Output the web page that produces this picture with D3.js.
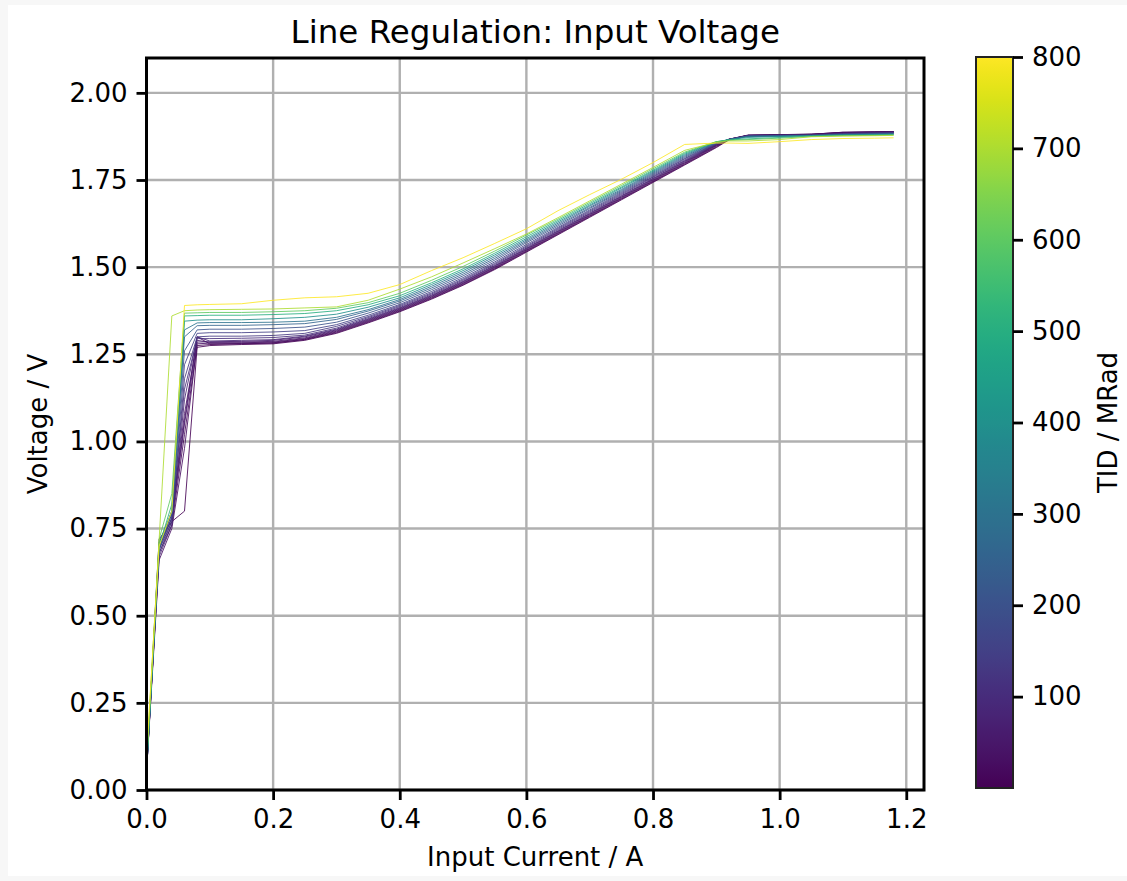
<!DOCTYPE html>
<html><head><meta charset="utf-8">
<script src="https://cdn.jsdelivr.net/npm/d3@7"></script>
<style>
body{margin:0;background:#fff;}
text{font-family:"DejaVu Sans",sans-serif;fill:#000;}
</style>
</head><body>
<svg id="c" width="1127" height="881"></svg>
<script>
// ---------- data ----------
const tid = [0, 10, 20, 30, 45, 60, 80, 100, 125, 150, 200, 250, 300, 400, 500, 600, 700, 800];
const current = [0, 0.02, 0.04, 0.06, 0.08, 0.10, 0.15, 0.20, 0.25, 0.30, 0.35, 0.40, 0.45, 0.50, 0.55, 0.60, 0.65, 0.70, 0.75, 0.80, 0.85, 0.90, 0.92, 0.95, 1.00, 1.05, 1.10, 1.15, 1.18];

const v000 = [0.05, 0.72, 0.77, 0.80, 1.27, 1.275, 1.278, 1.28, 1.29, 1.31, 1.34, 1.372, 1.408, 1.448, 1.493, 1.543, 1.593, 1.643, 1.693, 1.743, 1.793, 1.843, 1.865, 1.878, 1.879, 1.880, 1.886, 1.887, 1.888];
const v010 = [0.05, 0.68, 0.76, 1.02, 1.275, 1.278, 1.28, 1.282, 1.292, 1.312, 1.342, 1.374, 1.41, 1.45, 1.495, 1.545, 1.595, 1.645, 1.695, 1.745, 1.795, 1.845, 1.866, 1.878, 1.879, 1.881, 1.887, 1.888, 1.889];
const v020 = [0.06, 0.70, 0.78, 1.06, 1.30, 1.28, 1.281, 1.283, 1.293, 1.314, 1.344, 1.376, 1.412, 1.452, 1.497, 1.547, 1.597, 1.647, 1.697, 1.747, 1.797, 1.847, 1.866, 1.878, 1.88, 1.882, 1.886, 1.888, 1.889];
const v030 = [0.05, 0.66, 0.75, 0.98, 1.28, 1.282, 1.283, 1.285, 1.295, 1.316, 1.346, 1.378, 1.414, 1.454, 1.499, 1.549, 1.599, 1.649, 1.699, 1.749, 1.799, 1.849, 1.867, 1.879, 1.88, 1.881, 1.887, 1.888, 1.888];
const v045 = [0.06, 0.71, 0.79, 1.08, 1.29, 1.284, 1.285, 1.287, 1.297, 1.318, 1.348, 1.38, 1.416, 1.456, 1.501, 1.551, 1.601, 1.651, 1.701, 1.751, 1.801, 1.85, 1.867, 1.878, 1.879, 1.88, 1.885, 1.887, 1.888];
const v060 = [0.05, 0.69, 0.77, 1.05, 1.285, 1.286, 1.287, 1.29, 1.30, 1.32, 1.35, 1.382, 1.418, 1.458, 1.503, 1.553, 1.603, 1.653, 1.703, 1.753, 1.803, 1.851, 1.867, 1.878, 1.879, 1.88, 1.884, 1.886, 1.887];
const v080 = [0.06, 0.67, 0.76, 1.12, 1.30, 1.288, 1.29, 1.292, 1.302, 1.322, 1.352, 1.384, 1.42, 1.46, 1.505, 1.555, 1.605, 1.655, 1.705, 1.755, 1.805, 1.852, 1.867, 1.877, 1.878, 1.879, 1.884, 1.886, 1.887];
const v100 = [0.05, 0.70, 0.78, 1.15, 1.295, 1.295, 1.296, 1.298, 1.305, 1.325, 1.355, 1.387, 1.423, 1.463, 1.508, 1.558, 1.608, 1.658, 1.708, 1.758, 1.807, 1.853, 1.866, 1.877, 1.878, 1.879, 1.883, 1.885, 1.886];
const v125 = [0.06, 0.68, 0.77, 1.18, 1.30, 1.302, 1.302, 1.304, 1.31, 1.33, 1.358, 1.39, 1.426, 1.466, 1.511, 1.561, 1.611, 1.661, 1.711, 1.76, 1.81, 1.854, 1.866, 1.877, 1.878, 1.879, 1.882, 1.884, 1.885];
const v150 = [0.05, 0.69, 0.78, 1.22, 1.31, 1.312, 1.312, 1.314, 1.318, 1.335, 1.362, 1.393, 1.43, 1.47, 1.515, 1.565, 1.614, 1.664, 1.714, 1.763, 1.812, 1.855, 1.866, 1.876, 1.877, 1.878, 1.882, 1.884, 1.885];
const v200 = [0.06, 0.70, 0.79, 1.26, 1.32, 1.322, 1.322, 1.324, 1.328, 1.342, 1.368, 1.398, 1.435, 1.475, 1.52, 1.57, 1.618, 1.668, 1.717, 1.766, 1.815, 1.856, 1.866, 1.876, 1.877, 1.878, 1.881, 1.883, 1.884];
const v250 = [0.05, 0.69, 0.80, 1.30, 1.332, 1.333, 1.333, 1.335, 1.338, 1.35, 1.374, 1.403, 1.44, 1.48, 1.525, 1.574, 1.622, 1.671, 1.72, 1.769, 1.818, 1.857, 1.866, 1.875, 1.876, 1.877, 1.88, 1.882, 1.883];
const v300 = [0.06, 0.70, 0.80, 1.32, 1.34, 1.341, 1.341, 1.342, 1.345, 1.356, 1.378, 1.407, 1.445, 1.485, 1.53, 1.578, 1.626, 1.675, 1.723, 1.772, 1.821, 1.858, 1.866, 1.875, 1.876, 1.877, 1.88, 1.881, 1.882];
const v400 = [0.05, 0.71, 0.80, 1.345, 1.348, 1.349, 1.349, 1.352, 1.356, 1.365, 1.385, 1.412, 1.45, 1.49, 1.535, 1.582, 1.63, 1.678, 1.727, 1.775, 1.824, 1.859, 1.866, 1.872, 1.875, 1.877, 1.879, 1.88, 1.881];
const v500 = [0.06, 0.70, 0.82, 1.36, 1.361, 1.362, 1.362, 1.364, 1.367, 1.375, 1.392, 1.418, 1.455, 1.495, 1.54, 1.587, 1.634, 1.682, 1.73, 1.778, 1.827, 1.86, 1.865, 1.868, 1.872, 1.876, 1.878, 1.879, 1.88];
const v600 = [0.07, 0.72, 0.85, 1.368, 1.369, 1.37, 1.37, 1.372, 1.375, 1.382, 1.398, 1.425, 1.462, 1.502, 1.546, 1.592, 1.638, 1.686, 1.734, 1.782, 1.83, 1.86, 1.864, 1.866, 1.87, 1.875, 1.877, 1.878, 1.879];
const v700 = [0.08, 0.72, 1.36, 1.375, 1.377, 1.378, 1.379, 1.38, 1.383, 1.386, 1.405, 1.437, 1.472, 1.512, 1.553, 1.595, 1.642, 1.69, 1.738, 1.786, 1.835, 1.858, 1.862, 1.862, 1.866, 1.874, 1.876, 1.877, 1.878];
const v800 = [0.10, 0.70, 0.80, 1.39, 1.392, 1.393, 1.395, 1.405, 1.412, 1.415, 1.425, 1.45, 1.49, 1.527, 1.568, 1.61, 1.662, 1.708, 1.752, 1.80, 1.852, 1.856, 1.856, 1.855, 1.86, 1.866, 1.869, 1.87, 1.871];
const voltages = [v000, v010, v020, v030, v045, v060, v080, v100, v125, v150, v200, v250, v300, v400, v500, v600, v700, v800];

const xTicks = [0, 0.2, 0.4, 0.6, 0.8, 1.0, 1.2];
const yTicks = [0, 0.25, 0.5, 0.75, 1.0, 1.25, 1.5, 1.75, 2.0];
const cTicks = [100, 200, 300, 400, 500, 600, 700, 800];

// ---------- layout ----------
const svg = d3.select("#c");
const L = 146.5, R = 924, T = 58, B = 790;
const x = d3.scaleLinear().domain([0, 1.228]).range([L, R]);
const y = d3.scaleLinear().domain([0, 2.1]).range([B, T]);
const col = d3.scaleSequential(d3.interpolateViridis).domain([0, 800]);

// background
svg.append("rect").attr("width", 1127).attr("height", 881).attr("fill", "#f7f7f7");
svg.append("rect").attr("x", 8).attr("y", 5).attr("width", 1119).attr("height", 871).attr("fill", "#fff");

// grid
const grid = svg.append("g");
grid.selectAll("line.vx").data(xTicks).join("line")
  .attr("x1", d => x(d)).attr("x2", d => x(d)).attr("y1", T).attr("y2", B)
  .attr("stroke", "#b0b0b0").attr("stroke-width", 2.4);
grid.selectAll("line.hy").data(yTicks).join("line")
  .attr("x1", L).attr("x2", R).attr("y1", d => y(d)).attr("y2", d => y(d))
  .attr("stroke", "#b0b0b0").attr("stroke-width", 2.4);

// lines
svg.append("defs").append("clipPath").attr("id", "clip")
  .append("rect").attr("x", L).attr("y", T).attr("width", R - L).attr("height", B - T);
const line = d3.line().x((d, i) => x(current[i])).y(d => y(d));
svg.append("g").attr("clip-path", "url(#clip)")
  .selectAll("path").data(voltages).join("path")
  .attr("d", d => line(d))
  .attr("fill", "none")
  .attr("stroke", (d, i) => col(tid[i]))
  .attr("stroke-width", 1.0)
  .attr("stroke-opacity", 0.85)
  .attr("stroke-linejoin", "round");

// axes
const fs = 26;
const xAxis = svg.append("g").attr("transform", `translate(0,${B})`)
  .call(d3.axisBottom(x).tickValues(xTicks).tickFormat(d3.format(".1f")).tickSize(10).tickPadding(10));
const yAxis = svg.append("g").attr("transform", `translate(${L},0)`)
  .call(d3.axisLeft(y).tickValues(yTicks).tickFormat(d3.format(".2f")).tickSize(10).tickPadding(9));
[xAxis, yAxis].forEach(a => {
  a.select(".domain").remove();
  a.selectAll(".tick line").attr("stroke", "#000").attr("stroke-width", 2.8);
  a.selectAll(".tick text").attr("font-size", fs).attr("font-family", "DejaVu Sans").attr("fill", "#000");
});

// spines
svg.append("rect").attr("x", L).attr("y", T).attr("width", R - L).attr("height", B - T)
  .attr("fill", "none").attr("stroke", "#000").attr("stroke-width", 3);

// labels
svg.append("text").attr("x", (L + R) / 2).attr("y", 43).attr("text-anchor", "middle")
  .attr("font-size", 32.5).text("Line Regulation: Input Voltage");
svg.append("text").attr("x", (L + R) / 2).attr("y", 866).attr("text-anchor", "middle")
  .attr("font-size", fs).text("Input Current / A");
svg.append("text").attr("transform", `translate(47,${(T + B) / 2}) rotate(-90)`).attr("text-anchor", "middle")
  .attr("font-size", fs).text("Voltage / V");

// colorbar
const cbL = 976, cbR = 1013, cbT = 57, cbB = 788;
const cy = d3.scaleLinear().domain([0, 800]).range([cbB, cbT]);
const grad = svg.select("defs").append("linearGradient").attr("id", "vir")
  .attr("x1", 0).attr("y1", 1).attr("x2", 0).attr("y2", 0);
d3.range(0, 1.0001, 0.02).forEach(t => {
  grad.append("stop").attr("offset", t).attr("stop-color", d3.interpolateViridis(t));
});
svg.append("rect").attr("x", cbL).attr("y", cbT).attr("width", cbR - cbL).attr("height", cbB - cbT)
  .attr("fill", "url(#vir)").attr("stroke", "#222").attr("stroke-width", 2);
const cAxis = svg.append("g").attr("transform", `translate(${cbR},0)`)
  .call(d3.axisRight(cy).tickValues(cTicks).tickSize(10).tickPadding(9));
cAxis.select(".domain").remove();
cAxis.selectAll(".tick line").attr("stroke", "#000").attr("stroke-width", 2.8);
cAxis.selectAll(".tick text").attr("font-size", fs).attr("font-family", "DejaVu Sans").attr("fill", "#000");
svg.append("text").attr("transform", `translate(1117,${(cbT + cbB) / 2}) rotate(-90)`).attr("text-anchor", "middle")
  .attr("font-size", fs).text("TID / MRad");
</script>
</body></html>
